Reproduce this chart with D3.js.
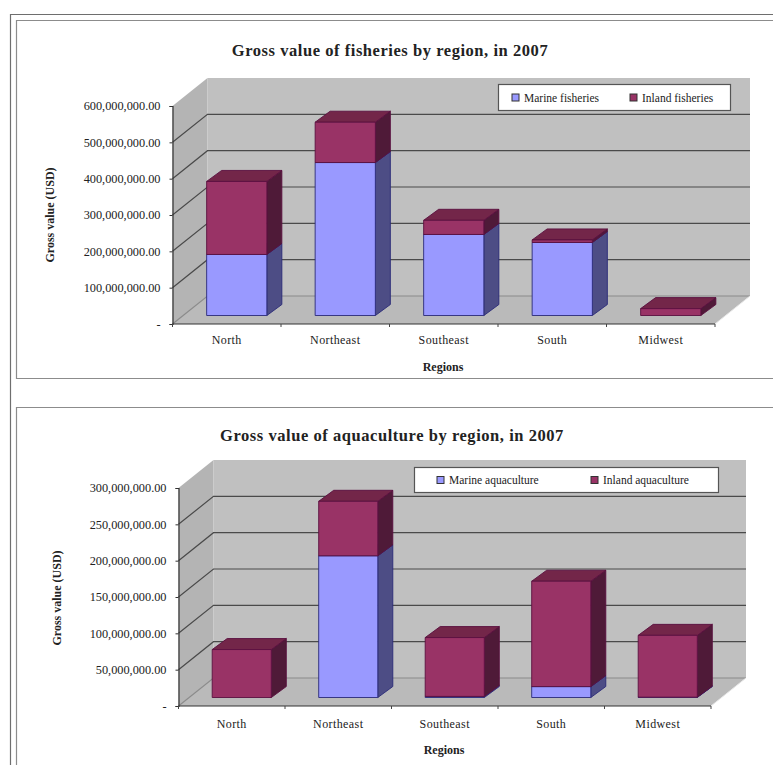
<!DOCTYPE html>
<html>
<head>
<meta charset="utf-8">
<script src="https://cdn.jsdelivr.net/npm/d3@7"></script>
<style>
  html, body { margin: 0; padding: 0; background: #fff; }
  svg { display: block; }
  text { font-family: "Liberation Serif", serif; fill: #222; }
</style>
</head>
<body>
<svg id="page" width="773" height="765"></svg>
<script>
// Gross values in USD by region
const regions = ["North", "Northeast", "Southeast", "South", "Midwest"];

const marineFisheries = [168000000, 421000000, 223000000, 201000000, 0];
const inlandFisheries = [201000000, 111000000, 39000000, 7000000, 19000000];
const fisheriesTicks = [0, 100000000, 200000000, 300000000, 400000000, 500000000, 600000000];

const marineAquaculture = [0, 195000000, 1500000, 15000000, 500000];
const inlandAquaculture = [66000000, 75000000, 81000000, 145000000, 85000000];
const aquacultureTicks = [0, 50000000, 100000000, 150000000, 200000000, 250000000, 300000000];

const palette = {
  marine: { front: "#9999ff", side: "#4d4d85", top: "#4d4d85", edge: "#2a2a78" },
  inland: { front: "#993366", side: "#4f1a38", top: "#732649", edge: "#5a1040" }
};

const svg = d3.select("#page");
const valueFormat = d => d === 0 ? "-" : d3.format(",.2f")(d);

// Page frames around the two charts
const frames = svg.append("g").attr("fill", "none").attr("stroke", "#6e6e6e");
frames.append("path").attr("d", "M10.5,765V14.5H773").attr("stroke-width", 1.2);
frames.append("path").attr("d", "M773,20.5H16.5V378.5H773").attr("stroke-width", 1.2).attr("stroke", "#8c8c8c");
frames.append("path").attr("d", "M16.5,765V407.5H773").attr("stroke-width", 1.2).attr("stroke", "#8c8c8c");

function drawChart(o) {
  const g = svg.append("g");
  const depthX = 35, depthY = 28, barDepthX = 15, barDepthY = 11;
  const x = d3.scaleBand().domain(regions).range([o.left, o.right]).paddingInner(0.445).paddingOuter(0.2225);
  const band = d3.scaleBand().domain(regions).range([o.left, o.right]);
  const y = d3.scaleLinear().domain([0, d3.max(o.ticks)]).range([o.bottom, o.top]);
  const line = d3.line();
  const poly = (pts, fill) => g.append("path").attr("d", line(pts) + "Z").attr("fill", fill);

  // Walls and floor
  const [y0, y1] = y.range();
  poly([[o.left, y0], [o.left + depthX, y0 - depthY], [o.left + depthX, y1 - depthY], [o.left, y1]], "#b4b4b4");
  poly([[o.left + depthX, y0 - depthY], [o.right + depthX, y0 - depthY], [o.right + depthX, y1 - depthY], [o.left + depthX, y1 - depthY]], "#c0c0c0");
  poly([[o.left, y0], [o.right, y0], [o.right + depthX, y0 - depthY], [o.left + depthX, y0 - depthY]], "#bababa");

  // Gridlines run along the side wall and across the back wall
  o.ticks.forEach((t, i) => {
    if (i === o.ticks.length - 1) return;
    const color = i === 0 ? "#8a8a8a" : "#4a4a4a";
    g.append("path")
      .attr("d", line([[o.left, y(t)], [o.left + depthX, y(t) - depthY], [o.right + depthX, y(t) - depthY]]))
      .attr("fill", "none").attr("stroke", color).attr("stroke-width", 1.2);
  });
  g.append("path")
    .attr("d", line([[o.right, y0], [o.right + depthX, y0 - depthY]]))
    .attr("fill", "none").attr("stroke", "#e8e8e8").attr("stroke-width", 1);

  // Value axis
  const yAxis = d3.axisLeft(y).tickValues(o.ticks).tickFormat(valueFormat).tickSize(3).tickPadding(9);
  const ya = g.append("g").attr("transform", `translate(${o.left},0)`).call(yAxis);
  ya.select(".domain").attr("stroke", "#333").attr("stroke-width", 1.2);
  ya.selectAll(".tick line").attr("stroke", "#333");
  ya.selectAll("text").attr("font-size", 12.3).attr("font-family", "Liberation Serif").attr("fill", "#333");

  // Category axis with ticks between the regions
  g.append("path").attr("d", line([[o.left, y0], [o.right, y0]])).attr("stroke", "#333").attr("stroke-width", 1.2);
  regions.concat([null]).forEach((r, i) => {
    const px = r ? band(r) : o.right;
    g.append("path").attr("d", line([[px, y0], [px, y0 + 3]])).attr("stroke", "#444");
  });
  g.selectAll(".cat").data(regions).join("text")
    .attr("class", "cat")
    .attr("x", d => band(d) + band.bandwidth() / 2)
    .attr("y", o.catY)
    .attr("text-anchor", "middle")
    .attr("font-size", 12)
    .style("letter-spacing", "0.4px")
    .text(d => d);

  // Stacked prisms, drawn left to right and bottom to top
  const rows = regions.map((r, i) => ({ region: r, marine: o.marine[i], inland: o.inland[i] }));
  const stacked = d3.stack().keys(["marine", "inland"])(rows);
  const offX = (depthX - barDepthX) / 2, offY = (depthY - barDepthY) / 2;
  regions.forEach((r, i) => {
    const bx0 = x(r) + offX, bx1 = bx0 + x.bandwidth();
    stacked.forEach(layer => {
      const [v0, v1] = layer[i];
      if (v1 <= v0) return;
      const c = palette[layer.key];
      const yb = y(v0) - offY, yt = y(v1) - offY;
      const face = (pts, fill) => g.append("path").attr("d", line(pts) + "Z")
        .attr("fill", fill).attr("stroke", c.edge).attr("stroke-width", 0.9).attr("stroke-linejoin", "round");
      face([[bx1, yb], [bx1 + barDepthX, yb - barDepthY], [bx1 + barDepthX, yt - barDepthY], [bx1, yt]], c.side);
      face([[bx0, yt], [bx1, yt], [bx1 + barDepthX, yt - barDepthY], [bx0 + barDepthX, yt - barDepthY]], c.top);
      face([[bx0, yb], [bx1, yb], [bx1, yt], [bx0, yt]], c.front);
    });
  });

  // Title and axis names
  g.append("text").attr("x", o.titleX).attr("y", o.titleY).attr("text-anchor", "middle")
    .attr("font-size", 16.5).attr("font-weight", "bold").style("letter-spacing", "0.55px").text(o.title);
  g.append("text").attr("transform", `translate(${o.yNameX},${o.yNameY}) rotate(-90)`)
    .attr("text-anchor", "middle").attr("font-size", 12).attr("font-weight", "bold").text("Gross value (USD)");
  g.append("text").attr("x", o.xNameX).attr("y", o.xNameY).attr("text-anchor", "middle")
    .attr("font-size", 12).attr("font-weight", "bold").text("Regions");

  // Legend
  const l = o.legend;
  g.append("rect").attr("x", l.x).attr("y", l.y).attr("width", l.w).attr("height", l.h)
    .attr("fill", "#fff").attr("stroke", "#555").attr("stroke-width", 1.2);
  l.items.forEach(it => {
    const c = palette[it.key];
    g.append("rect").attr("x", it.x).attr("y", l.y + l.h / 2 - 3.5).attr("width", 7).attr("height", 7)
      .attr("fill", c.front).attr("stroke", it.key === "marine" ? "#333" : "#333");
    g.append("text").attr("x", it.x + 12).attr("y", l.y + l.h / 2 + 4).attr("font-size", 11.5).text(it.label);
  });
}

drawChart({
  title: "Gross value of fisheries by region, in 2007",
  titleX: 390, titleY: 56,
  left: 172.5, right: 715, bottom: 324, top: 106,
  ticks: fisheriesTicks, marine: marineFisheries, inland: inlandFisheries,
  catY: 344, yNameX: 54, yNameY: 215, xNameX: 443, xNameY: 371,
  legend: { x: 498.5, y: 84.5, w: 232, h: 26, items: [
    { key: "marine", x: 512, label: "Marine fisheries" },
    { key: "inland", x: 630, label: "Inland fisheries" }
  ] }
});

drawChart({
  title: "Gross value of aquaculture by region, in 2007",
  titleX: 392, titleY: 441,
  left: 178.5, right: 711, bottom: 706, top: 488,
  ticks: aquacultureTicks, marine: marineAquaculture, inland: inlandAquaculture,
  catY: 728, yNameX: 61, yNameY: 598, xNameX: 444, xNameY: 754,
  legend: { x: 414.5, y: 467.5, w: 304, h: 25, items: [
    { key: "marine", x: 437, label: "Marine aquaculture" },
    { key: "inland", x: 591, label: "Inland aquaculture" }
  ] }
});
</script>
</body>
</html>
